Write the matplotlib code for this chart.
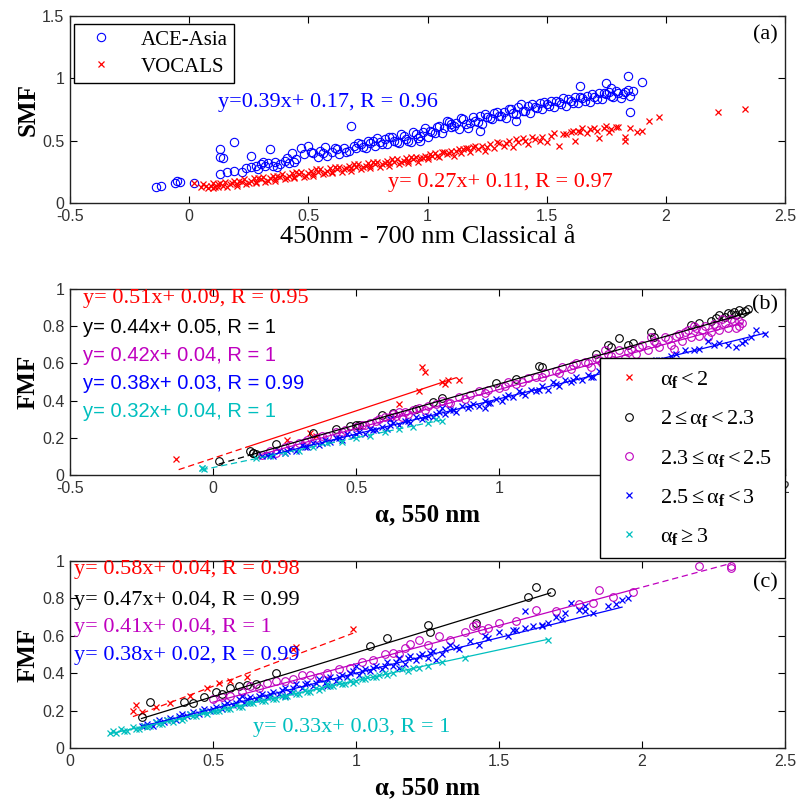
import numpy as np
import matplotlib
matplotlib.use('Agg')
import matplotlib.pyplot as plt

plt.rcParams.update({'font.family': 'Liberation Serif',
                     'mathtext.fontset': 'custom',
                     'mathtext.rm': 'Liberation Serif',
                     'mathtext.it': 'Liberation Serif:italic',
                     'mathtext.bf': 'Liberation Serif:bold'})

# ---------------- (a) SMF vs Angstrom exponent ----------------
ace_x = [-0.14, -0.12, -0.06, -0.05, -0.04, 0.02, 0.13, 0.13, 0.14, 0.19, 0.26, 0.34, 0.13, 0.16, 0.19, 0.22,
         0.24, 0.26, 0.28, 0.30, 0.32, 0.33, 0.35, 0.36, 0.38, 0.40, 0.42, 0.43, 0.45, 0.47, 0.48, 0.50, 0.52,
         0.54, 0.55, 0.57, 0.58, 0.60, 0.62, 0.63, 0.65, 0.67, 0.68, 0.69, 0.70, 0.72, 0.73, 0.75, 0.76, 0.78,
         0.79, 0.80, 0.82, 0.83, 0.85, 0.86, 0.88, 0.90, 0.91, 0.93, 0.95, 0.96, 0.98, 1.00, 1.01, 1.03, 1.05,
         1.06, 1.08, 1.10, 1.12, 1.13, 1.15, 1.17, 1.18, 1.20, 1.22, 1.23, 1.25, 1.27, 1.28, 1.30, 1.32, 1.33,
         1.35, 1.37, 1.38, 1.40, 1.42, 1.43, 1.45, 1.47, 1.48, 1.50, 1.52, 1.53, 1.55, 1.57, 1.58, 1.60, 1.62,
         1.63, 1.65, 1.67, 1.68, 1.70, 1.72, 1.73, 1.75, 1.76, 1.78, 1.80, 1.81, 1.83, 1.85, 1.86, 1.64, 1.75,
         1.77, 1.84, 1.90, 1.85, 1.37, 1.10, 0.97, 1.22,
         0.51, 0.56, 0.61, 0.66, 0.71, 0.74, 0.77, 0.81, 0.84, 0.87, 0.89, 0.92, 0.94, 0.97, 0.99, 1.02, 1.04,
         1.07, 1.09, 1.11, 1.14, 1.16, 1.19, 1.21, 1.24, 1.26, 1.29, 1.31, 1.34, 1.36, 1.39, 1.41, 1.44, 1.46,
         1.49, 1.51, 1.54, 1.56, 1.59, 1.61, 1.64, 1.66, 1.69, 1.71, 1.74, 1.77, 1.79, 1.82, 1.84, 0.29, 0.31,
         0.37, 0.41, 0.44]
ace_y = [0.13, 0.14, 0.16, 0.18, 0.17, 0.16, 0.37, 0.43, 0.36, 0.49, 0.38, 0.43, 0.23, 0.25, 0.26, 0.25,
         0.28, 0.29, 0.30, 0.31, 0.30, 0.32, 0.30, 0.33, 0.31, 0.34, 0.32, 0.40, 0.35, 0.44, 0.39, 0.46, 0.40,
         0.37, 0.42, 0.45, 0.38, 0.41, 0.43, 0.39, 0.44, 0.42, 0.62, 0.46, 0.44, 0.47, 0.45, 0.50, 0.48, 0.46,
         0.52, 0.49, 0.51, 0.47, 0.53, 0.50, 0.48, 0.54, 0.51, 0.49, 0.55, 0.52, 0.57, 0.53, 0.58, 0.56, 0.62,
         0.56, 0.66, 0.61, 0.64, 0.59, 0.67, 0.60, 0.64, 0.66, 0.70, 0.63, 0.69, 0.67, 0.72, 0.70, 0.73, 0.68,
         0.75, 0.71, 0.77, 0.74, 0.78, 0.72, 0.77, 0.80, 0.75, 0.79, 0.82, 0.77, 0.81, 0.84, 0.78, 0.82, 0.85,
         0.80, 0.84, 0.86, 0.81, 0.85, 0.88, 0.83, 0.87, 0.89, 0.85, 0.88, 0.84, 0.89, 0.86, 0.90, 0.94, 0.96,
         0.92, 1.02, 0.97, 0.73, 0.66, 0.63, 0.50, 0.58,
         0.41, 0.40, 0.44, 0.41, 0.48, 0.44, 0.50, 0.47, 0.53, 0.49, 0.55, 0.50, 0.57, 0.54, 0.60, 0.57, 0.61,
         0.60, 0.65, 0.62, 0.68, 0.63, 0.69, 0.65, 0.71, 0.68, 0.73, 0.70, 0.75, 0.72, 0.79, 0.74, 0.79, 0.76,
         0.81, 0.78, 0.82, 0.79, 0.83, 0.80, 0.85, 0.82, 0.87, 0.83, 0.88, 0.86, 0.90, 0.87, 0.91, 0.27, 0.33,
         0.29, 0.36, 0.33]

voc_x = [0.02, 0.05, 0.06, 0.08, 0.09, 0.10, 0.11, 0.12, 0.14, 0.15, 0.16, 0.18, 0.19, 0.20, 0.22, 0.23,
         0.24, 0.26, 0.27, 0.28, 0.30, 0.31, 0.32, 0.34, 0.35, 0.36, 0.38, 0.39, 0.40, 0.42, 0.43, 0.44, 0.46,
         0.47, 0.48, 0.50, 0.51, 0.52, 0.54, 0.55, 0.56, 0.58, 0.59, 0.60, 0.62, 0.63, 0.64, 0.66, 0.67, 0.68,
         0.70, 0.71, 0.72, 0.74, 0.75, 0.76, 0.78, 0.79, 0.80, 0.82, 0.83, 0.84, 0.86, 0.87, 0.88, 0.90, 0.91,
         0.92, 0.94, 0.95, 0.96, 0.98, 0.99, 1.00, 1.02, 1.03, 1.05, 1.06, 1.08, 1.10, 1.11, 1.13, 1.14, 1.16,
         1.18, 1.19, 1.21, 1.23, 1.24, 1.26, 1.28, 1.30, 1.32, 1.34, 1.36, 1.38, 1.40, 1.42, 1.45, 1.48, 1.50,
         1.52, 1.55, 1.57, 1.60, 1.62, 1.63, 1.65, 1.67, 1.70, 1.72, 1.75, 1.77, 1.80, 1.83, 1.83, 1.85, 1.88,
         1.90, 1.93, 1.97, 2.22, 2.33,
         0.07, 0.10, 0.13, 0.17, 0.21, 0.25, 0.29, 0.33, 0.37, 0.41, 0.45, 0.49, 0.53, 0.57, 0.61, 0.65, 0.69,
         0.73, 0.77, 0.81, 0.85, 0.89, 0.93, 0.97, 1.01, 1.04, 1.07, 1.12, 1.15, 1.20, 1.25, 1.29, 1.33, 1.37,
         1.41, 1.44, 1.47, 1.53, 1.58, 1.61, 1.64, 1.68, 1.71, 1.74, 1.76, 1.79, 0.12, 0.20, 0.28, 0.36, 0.44,
         0.52, 0.60, 0.68, 0.76, 0.84, 0.92, 1.00, 1.09, 1.17]
voc_y = [0.16, 0.13, 0.15, 0.12, 0.14, 0.16, 0.13, 0.15, 0.14, 0.17, 0.13, 0.16, 0.18, 0.14, 0.17, 0.19,
         0.15, 0.18, 0.20, 0.16, 0.19, 0.21, 0.17, 0.20, 0.22, 0.18, 0.21, 0.23, 0.19, 0.22, 0.24, 0.20, 0.23,
         0.25, 0.21, 0.24, 0.26, 0.22, 0.25, 0.27, 0.23, 0.26, 0.28, 0.24, 0.27, 0.29, 0.25, 0.28, 0.30, 0.26,
         0.29, 0.31, 0.27, 0.30, 0.32, 0.28, 0.31, 0.33, 0.29, 0.32, 0.34, 0.30, 0.33, 0.35, 0.31, 0.34, 0.36,
         0.32, 0.35, 0.37, 0.33, 0.36, 0.38, 0.35, 0.38, 0.40, 0.37, 0.41, 0.39, 0.42, 0.38, 0.43, 0.40, 0.44,
         0.41, 0.45, 0.43, 0.46, 0.42, 0.47, 0.44, 0.48, 0.46, 0.50, 0.45, 0.49, 0.52, 0.47, 0.51, 0.53, 0.49,
         0.54, 0.46, 0.55, 0.57, 0.50, 0.58, 0.60, 0.56, 0.60, 0.52, 0.62, 0.59, 0.61, 0.50, 0.53, 0.60, 0.57,
         0.58, 0.66, 0.69, 0.73, 0.75,
         0.14, 0.12, 0.16, 0.15, 0.18, 0.16, 0.20, 0.18, 0.22, 0.20, 0.25, 0.22, 0.27, 0.24, 0.29, 0.27, 0.31,
         0.29, 0.33, 0.31, 0.35, 0.33, 0.37, 0.36, 0.39, 0.38, 0.41, 0.42, 0.43, 0.46, 0.45, 0.49, 0.48, 0.51,
         0.50, 0.53, 0.50, 0.56, 0.55, 0.58, 0.57, 0.59, 0.58, 0.60, 0.57, 0.61, 0.13, 0.15, 0.17, 0.19, 0.21,
         0.23, 0.25, 0.28, 0.30, 0.32, 0.34, 0.37, 0.40, 0.44]

fit_a = {'ACE-Asia': (0.39, 0.17, 0.96), 'VOCALS': (0.27, 0.11, 0.97)}

# ---------------- (b) FMF vs alpha, uncorrected ----------------
b_red_x = [-0.13, 0.26, 0.34, 0.36, 0.65, 0.72, 0.73, 0.74, 0.80, 0.81, 0.82, 0.86]
b_red_y = [0.086, 0.19, 0.225, 0.21, 0.38, 0.45, 0.58, 0.555, 0.50, 0.49, 0.51, 0.51]

b_blk_x = [0.02, 0.13, 0.14, 0.14, 0.15, 0.22, 0.35, 0.43, 0.48, 0.50, 0.51, 0.59, 0.63, 0.71, 0.77, 0.80,
           0.99, 1.06, 1.14, 1.15, 1.34, 1.38, 1.39, 1.42, 1.45, 1.47, 1.53, 1.54, 1.67, 1.70, 1.74, 1.76,
           1.77, 1.79, 1.80, 1.81, 1.82, 1.83, 1.84, 1.85, 1.86, 1.87]
b_blk_y = [0.075, 0.13, 0.12, 0.118, 0.115, 0.167, 0.226, 0.25, 0.262, 0.27, 0.268, 0.323, 0.335, 0.355,
           0.393, 0.417, 0.495, 0.516, 0.586, 0.582, 0.65, 0.70, 0.69, 0.737, 0.70, 0.71, 0.77, 0.74, 0.806,
           0.82, 0.83, 0.844, 0.86, 0.85, 0.87, 0.866, 0.876, 0.86, 0.89, 0.87, 0.88, 0.895]

b_mag_x = [0.17, 0.20, 0.22, 0.25, 0.27, 0.30, 0.33, 0.36, 0.40, 0.43, 0.46, 0.50, 0.53, 0.55, 0.58, 0.60,
           0.63, 0.65, 0.68, 0.70, 0.72, 0.75, 0.78, 0.80, 0.83, 0.86, 0.90, 0.93, 0.96, 1.00, 1.03, 1.06,
           1.10, 1.13, 1.16, 1.20, 1.22, 1.25, 1.27, 1.30, 1.32, 1.34, 1.36, 1.38, 1.40, 1.42, 1.44, 1.46,
           1.48, 1.50, 1.52, 1.54, 1.56, 1.58, 1.60, 1.62, 1.64, 1.65, 1.67, 1.69, 1.70, 1.72, 1.74, 1.75,
           1.77, 1.79, 1.80, 1.82, 1.84, 1.85, 1.37, 1.43, 1.53, 1.61, 1.68, 1.73, 1.78, 1.83,
           0.32, 0.38, 0.45, 0.52, 0.57, 0.62, 0.67, 0.74, 0.82, 0.88, 0.95, 1.02, 1.08, 1.15, 1.21, 1.26,
           1.31, 1.35, 1.39, 1.45, 1.49, 1.55, 1.59, 1.63, 1.66, 1.71, 1.76, 1.81, 1.84, 0.64, 0.66]
b_mag_y = [0.11, 0.13, 0.12, 0.15, 0.16, 0.17, 0.19, 0.20, 0.21, 0.23, 0.24, 0.26, 0.27, 0.28, 0.30, 0.31,
           0.33, 0.34, 0.33, 0.35, 0.36, 0.37, 0.38, 0.40, 0.39, 0.42, 0.43, 0.45, 0.46, 0.47, 0.50, 0.49,
           0.52, 0.53, 0.55, 0.56, 0.58, 0.57, 0.60, 0.61, 0.58, 0.63, 0.60, 0.65, 0.62, 0.67, 0.63, 0.68,
           0.65, 0.70, 0.67, 0.72, 0.69, 0.74, 0.70, 0.75, 0.72, 0.77, 0.74, 0.79, 0.75, 0.80, 0.77, 0.81,
           0.78, 0.82, 0.79, 0.83, 0.80, 0.82, 0.67, 0.60, 0.74, 0.68, 0.80, 0.74, 0.84, 0.79,
           0.18, 0.21, 0.23, 0.27, 0.29, 0.31, 0.34, 0.35, 0.39, 0.41, 0.44, 0.48, 0.50, 0.53, 0.55, 0.59,
           0.60, 0.62, 0.64, 0.66, 0.69, 0.71, 0.73, 0.76, 0.78, 0.78, 0.80, 0.84, 0.83, 0.32, 0.31]

b_blu_x = [0.17, 0.19, 0.21, 0.23, 0.25, 0.27, 0.29, 0.31, 0.33, 0.35, 0.37, 0.39, 0.41, 0.43, 0.45, 0.47,
           0.49, 0.51, 0.53, 0.55, 0.57, 0.59, 0.61, 0.63, 0.65, 0.67, 0.69, 0.71, 0.73, 0.75, 0.77, 0.79,
           0.81, 0.83, 0.85, 0.87, 0.89, 0.91, 0.93, 0.95, 0.97, 0.99, 1.01, 1.03, 1.05, 1.07, 1.09, 1.11,
           1.13, 1.15, 1.17, 1.19, 1.21, 1.23, 1.25, 1.27, 1.29, 1.31, 1.33, 1.35, 1.37, 1.40, 1.43, 1.46,
           1.50, 1.53, 1.56, 1.60, 1.65, 1.70, 1.73, 1.77, 1.80, 1.83, 1.86, 1.88, 1.90, 1.93, 0.62, 0.80,
           0.95,
           0.20, 0.26, 0.32, 0.38, 0.44, 0.50, 0.56, 0.62, 0.68, 0.74, 0.78, 0.84, 0.90, 0.96, 1.02, 1.08,
           1.14, 1.20, 1.26, 1.32, 1.38, 1.42, 1.48, 1.55, 1.62, 1.68, 1.75, 1.85]
b_blu_y = [0.10, 0.11, 0.10, 0.13, 0.12, 0.14, 0.13, 0.16, 0.15, 0.17, 0.16, 0.19, 0.18, 0.20, 0.19, 0.22,
           0.21, 0.23, 0.22, 0.25, 0.24, 0.26, 0.25, 0.28, 0.27, 0.29, 0.28, 0.31, 0.30, 0.32, 0.31, 0.34,
           0.33, 0.35, 0.34, 0.37, 0.36, 0.38, 0.37, 0.40, 0.39, 0.41, 0.40, 0.43, 0.42, 0.45, 0.43, 0.46,
           0.45, 0.48, 0.46, 0.50, 0.48, 0.51, 0.50, 0.53, 0.51, 0.54, 0.53, 0.56, 0.54, 0.57, 0.56, 0.59,
           0.60, 0.61, 0.62, 0.64, 0.67, 0.68, 0.72, 0.71, 0.70, 0.69, 0.72, 0.74, 0.78, 0.76, 0.30, 0.36,
           0.36,
           0.11, 0.13, 0.15, 0.17, 0.20, 0.22, 0.24, 0.27, 0.29, 0.31, 0.33, 0.35, 0.37, 0.39, 0.42, 0.44,
           0.46, 0.49, 0.51, 0.53, 0.56, 0.57, 0.59, 0.62, 0.65, 0.67, 0.70, 0.71]

b_cyn_x = [-0.04, -0.03, -0.04, 0.15, 0.20, 0.25, 0.30, 0.35, 0.40, 0.45, 0.50, 0.55, 0.60, 0.65, 0.70,
           0.75, 0.80, 0.78]
b_cyn_y = [0.035, 0.03, 0.04, 0.09, 0.10, 0.12, 0.13, 0.15, 0.17, 0.18, 0.20, 0.21, 0.23, 0.25, 0.26,
           0.28, 0.29, 0.30]

# slope, intercept, R for each alpha_f class
slope_b = [0.51, 0.44, 0.42, 0.38, 0.32]
icpt_b = [0.09, 0.05, 0.04, 0.03, 0.04]
r_b = ['0.95', '1', '1', '0.99', '1']
# x extent of solid and dashed parts of each fitted line
solid_b = [(0.12, 0.85), (0.14, 1.88), (0.17, 1.85), (0.17, 1.93), None]
dash_b = [(-0.12, 0.12), (0.02, 0.14), None, None, (-0.04, 0.80)]

# ---------------- (c) FMF vs alpha, corrected ----------------
c_red_x = [0.22, 0.23, 0.25, 0.30, 0.35, 0.42, 0.48, 0.52, 0.56, 0.62, 0.78, 0.79, 0.99]
c_red_y = [0.20, 0.23, 0.19, 0.22, 0.24, 0.28, 0.32, 0.35, 0.36, 0.38, 0.53, 0.54, 0.635]

c_blk_x = [0.25, 0.28, 0.40, 0.43, 0.47, 0.51, 0.53, 0.56, 0.59, 0.62, 0.65, 0.72, 1.05, 1.11, 1.25, 1.26,
           1.42, 1.60, 1.63, 1.68]
c_blk_y = [0.166, 0.245, 0.245, 0.24, 0.27, 0.30, 0.29, 0.32, 0.33, 0.337, 0.34, 0.40, 0.545, 0.59, 0.66,
           0.62, 0.668, 0.81, 0.86, 0.835]

c_mag_x = [0.50, 0.53, 0.56, 0.60, 0.63, 0.66, 0.69, 0.72, 0.75, 0.78, 0.81, 0.84, 0.87, 0.90, 0.94, 0.98,
           1.02, 1.06, 1.10, 1.13, 1.15, 1.17, 1.19, 1.22, 1.25, 1.29, 1.33, 1.38, 1.41, 1.42, 1.44, 1.46,
           1.50, 1.56, 1.63, 1.70, 1.78, 1.83, 1.85, 1.90, 1.97, 2.20, 2.31, 2.31]
c_mag_y = [0.26, 0.27, 0.28, 0.30, 0.33, 0.32, 0.35, 0.36, 0.36, 0.37, 0.39, 0.39, 0.38, 0.40, 0.42, 0.43,
           0.46, 0.47, 0.50, 0.51, 0.50, 0.535, 0.556, 0.58, 0.55, 0.60, 0.58, 0.62, 0.65, 0.66, 0.63, 0.64,
           0.67, 0.68, 0.74, 0.73, 0.77, 0.775, 0.845, 0.81, 0.835, 0.973, 0.973, 0.96]

c_blu_x = [0.25, 0.27, 0.29, 0.31, 0.33, 0.35, 0.37, 0.39, 0.41, 0.43, 0.45, 0.47, 0.49, 0.51, 0.53, 0.55,
           0.57, 0.59, 0.61, 0.63, 0.65, 0.67, 0.69, 0.71, 0.73, 0.75, 0.77, 0.79, 0.81, 0.83, 0.85, 0.87,
           0.89, 0.91, 0.93, 0.95, 0.97, 0.99, 1.01, 1.03, 1.05, 1.07, 1.09, 1.11, 1.13, 1.15, 1.17, 1.19,
           1.21, 1.23, 1.25, 1.27, 1.30, 1.33, 1.36, 1.40, 1.43, 1.46, 1.50, 1.53, 1.56, 1.59, 1.62, 1.65,
           1.67, 1.70, 1.73, 1.75, 1.78, 1.80, 1.83, 1.88, 1.91, 1.93, 1.95, 0.60, 0.75, 0.90, 1.00, 1.15,
           1.28, 1.59,
           0.26, 0.30, 0.34, 0.38, 0.42, 0.46, 0.50, 0.54, 0.58, 0.62, 0.66, 0.70, 0.74, 0.78, 0.82, 0.86,
           0.90, 0.94, 0.98, 1.02, 1.06, 1.10, 1.14, 1.18, 1.22, 1.26, 1.31, 1.35, 1.45, 1.55, 1.65, 1.72,
           1.80]
c_blu_y = [0.12, 0.13, 0.12, 0.15, 0.14, 0.16, 0.15, 0.18, 0.17, 0.19, 0.18, 0.21, 0.20, 0.22, 0.21, 0.24,
           0.23, 0.26, 0.24, 0.27, 0.26, 0.29, 0.27, 0.30, 0.29, 0.32, 0.30, 0.34, 0.32, 0.35, 0.33, 0.37,
           0.35, 0.38, 0.36, 0.39, 0.38, 0.41, 0.39, 0.42, 0.41, 0.44, 0.42, 0.46, 0.44, 0.48, 0.45, 0.49,
           0.47, 0.50, 0.48, 0.52, 0.50, 0.55, 0.53, 0.57, 0.55, 0.59, 0.62, 0.60, 0.63, 0.64, 0.65, 0.66,
           0.67, 0.70, 0.72, 0.775, 0.74, 0.76, 0.72, 0.76, 0.77, 0.79, 0.80, 0.28, 0.28, 0.33, 0.44, 0.43,
           0.47, 0.73,
           0.12, 0.14, 0.15, 0.17, 0.18, 0.20, 0.21, 0.23, 0.24, 0.26, 0.28, 0.29, 0.31, 0.32, 0.34, 0.35,
           0.37, 0.38, 0.40, 0.41, 0.43, 0.44, 0.46, 0.48, 0.49, 0.51, 0.53, 0.54, 0.60, 0.63, 0.65, 0.69,
           0.73]

c_cyn_x = [0.14, 0.16, 0.18, 0.20, 0.22, 0.24, 0.26, 0.28, 0.30, 0.32, 0.34, 0.36, 0.38, 0.40, 0.42, 0.44,
           0.46, 0.48, 0.50, 0.52, 0.54, 0.56, 0.58, 0.60, 0.62, 0.64, 0.66, 0.68, 0.70, 0.72, 0.74, 0.76,
           0.78, 0.80, 0.82, 0.84, 0.86, 0.88, 0.90, 0.92, 0.94, 0.96, 0.98, 1.00, 1.02, 1.04, 1.06, 1.08,
           1.10, 1.13, 1.16, 1.20, 1.25, 1.30, 1.38, 1.67,
           0.15, 0.19, 0.23, 0.27, 0.31, 0.35, 0.39, 0.43, 0.47, 0.51, 0.55, 0.59, 0.63, 0.67, 0.71, 0.75,
           0.79, 0.83, 0.87, 0.91, 0.95, 0.99, 1.03, 1.07, 1.11, 1.18, 1.22]
c_cyn_y = [0.08, 0.08, 0.10, 0.09, 0.11, 0.10, 0.12, 0.12, 0.14, 0.13, 0.15, 0.14, 0.16, 0.16, 0.18, 0.17,
           0.19, 0.18, 0.20, 0.20, 0.22, 0.21, 0.23, 0.22, 0.24, 0.24, 0.26, 0.25, 0.27, 0.26, 0.28, 0.28,
           0.30, 0.29, 0.31, 0.30, 0.32, 0.32, 0.34, 0.33, 0.35, 0.34, 0.36, 0.36, 0.37, 0.38, 0.38, 0.39,
           0.40, 0.40, 0.42, 0.43, 0.44, 0.46, 0.48, 0.58,
           0.09, 0.09, 0.10, 0.11, 0.13, 0.15, 0.15, 0.17, 0.19, 0.20, 0.21, 0.22, 0.24, 0.25, 0.26, 0.27,
           0.29, 0.30, 0.31, 0.33, 0.34, 0.35, 0.37, 0.38, 0.39, 0.41, 0.43]

slope_c = [0.58, 0.47, 0.41, 0.38, 0.33]
icpt_c = [0.04, 0.04, 0.04, 0.02, 0.03]
r_c = ['0.98', '0.99', '1', '0.99', '1']
solid_c = [None, (0.25, 1.68), (0.50, 1.97), (0.25, 1.93), (0.14, 1.67)]
dash_c = [(0.22, 0.99), None, (1.97, 2.31), None, None]

colors = ['r', 'k', 'm', 'b', 'c']
markers = ['x', 'o', 'o', 'x', 'x']
leg_labels = [r'$\mathrm{α}_{\mathbf{f}} < 2$',
              r'$2 \leq \mathrm{α}_{\mathbf{f}} < 2.3$',
              r'$2.3 \leq \mathrm{α}_{\mathbf{f}} < 2.5$',
              r'$2.5 \leq \mathrm{α}_{\mathbf{f}} < 3$',
              r'$\mathrm{α}_{\mathbf{f}} \geq 3$']

tickfont = {'family': 'Liberation Sans', 'size': 11.5}


def style_axes(ax, xlim, ylim, xticks, yticks):
    ax.set_xlim(xlim)
    ax.set_ylim(ylim)
    ax.set_xticks(xticks)
    ax.set_yticks(yticks)
    ax.set_xticklabels(['%g' % t for t in xticks], fontdict=tickfont, color='#333333')
    ax.set_yticklabels(['%g' % t for t in yticks], fontdict=tickfont, color='#333333')
    ax.tick_params(direction='in', length=5, width=0.8, top=True, right=True)
    ax.tick_params(axis='x', pad=4.5)
    ax.tick_params(axis='y', pad=4)
    for s in ax.spines.values():
        s.set_linewidth(1.0)
        s.set_color('#222222')


def scatter_set(ax, xs, ys, col, mk):
    if mk == 'o':
        return ax.plot(xs, ys, 'o', mfc='none', mec=col, ms=5.5, mew=0.8, zorder=2)[0]
    return ax.plot(xs, ys, 'x', color=col, ms=5, mew=0.9, zorder=2)[0]


def fit_lines(ax, slopes, icpts, solid, dash):
    for m, c, col, s, d in zip(slopes, icpts, colors, solid, dash):
        if s is not None:
            xx = np.array(s)
            ax.plot(xx, m * xx + c, '-', color=col, lw=0.9, zorder=3)
        if d is not None:
            xx = np.array(d)
            ax.plot(xx, m * xx + c, '--', color=col, lw=0.9, dashes=(5, 3), zorder=3)


fig = plt.figure(figsize=(7.99, 8.01), dpi=100)

# panel (a)
ax1 = fig.add_axes([0.0876, 0.7466, 0.895, 0.2335])
h1 = ax1.plot(ace_x, ace_y, 'o', mfc='none', mec='b', ms=6, mew=0.8)[0]
h2 = ax1.plot(voc_x, voc_y, 'x', color='r', ms=5, mew=0.9)[0]
style_axes(ax1, (-0.5, 2.5), (0, 1.5), [-0.5, 0, 0.5, 1, 1.5, 2, 2.5], [0, 0.5, 1, 1.5])
ax1.legend([h1, h2], ['ACE-Asia', 'VOCALS'], loc='upper left', bbox_to_anchor=(0.0, 0.98),
           prop={'family': 'Liberation Serif', 'size': 15}, fancybox=False, framealpha=1,
           edgecolor='k', borderpad=0.3, handlelength=2.0, handletextpad=0.9, labelspacing=0.35,
           borderaxespad=0.2)
m, c, r = fit_a['ACE-Asia']
ax1.text(0.207, 0.535, 'y=%gx+ %g, R = %g' % (m, c, r), transform=ax1.transAxes, color='b',
         fontsize=16, va='center')
m, c, r = fit_a['VOCALS']
ax1.text(0.445, 0.112, 'y= %gx+ %g, R = %g' % (m, c, r), transform=ax1.transAxes, color='r',
         fontsize=16, va='center')
ax1.text(0.99, 0.898, '(a)', transform=ax1.transAxes, fontsize=16, ha='right', va='center')
ax1.set_xlabel('450nm - 700 nm Classical å', fontsize=19, labelpad=1)
ax1.set_ylabel('SMF', fontsize=18, fontweight='bold', labelpad=2)

# panel (b)
ax2 = fig.add_axes([0.0876, 0.407, 0.895, 0.232])
b_sets = [(b_red_x, b_red_y), (b_blk_x, b_blk_y), (b_mag_x, b_mag_y), (b_blu_x, b_blu_y),
          (b_cyn_x, b_cyn_y)]
handles = []
for (xs, ys), col, mk in zip(b_sets, colors, markers):
    handles.append(scatter_set(ax2, xs, ys, col, mk))
fit_lines(ax2, slope_b, icpt_b, solid_b, dash_b)
style_axes(ax2, (-0.5, 2), (0, 1), [-0.5, 0, 0.5, 1, 1.5, 2], [0, 0.2, 0.4, 0.6, 0.8, 1])
ty = [0.952, 0.796, 0.645, 0.495, 0.339]
for i in range(5):
    fam = 'Liberation Serif' if i == 0 else 'Liberation Sans'
    fs = 16 if i == 0 else 14.5
    ax2.text(0.018, ty[i], 'y= %gx+ %g, R = %s' % (slope_b[i], icpt_b[i], r_b[i]),
             transform=ax2.transAxes, color=colors[i], family=fam, fontsize=fs, va='center')
ax2.text(0.99, 0.914, '(b)', transform=ax2.transAxes, fontsize=16, ha='right', va='center')
ax2.set_xlabel('α, 550 nm', fontsize=18, fontweight='bold', labelpad=5)
ax2.set_ylabel('FMF', fontsize=18, fontweight='bold', labelpad=2)

# panel (c)
ax3 = fig.add_axes([0.0876, 0.0662, 0.895, 0.2334])
c_sets = [(c_red_x, c_red_y), (c_blk_x, c_blk_y), (c_mag_x, c_mag_y), (c_blu_x, c_blu_y),
          (c_cyn_x, c_cyn_y)]
for (xs, ys), col, mk in zip(c_sets, colors, markers):
    scatter_set(ax3, xs, ys, col, mk)
fit_lines(ax3, slope_c, icpt_c, solid_c, dash_c)
style_axes(ax3, (0, 2.5), (0, 1), [0, 0.5, 1, 1.5, 2, 2.5], [0, 0.2, 0.4, 0.6, 0.8, 1])
ty = [0.952, 0.791, 0.647, 0.497]
for i in range(4):
    ax3.text(0.006, ty[i], 'y= %gx+ %g, R = %s' % (slope_c[i], icpt_c[i], r_c[i]),
             transform=ax3.transAxes, color=colors[i], fontsize=16, va='center')
ax3.text(0.256, 0.112, 'y= %gx+ %g, R = %s' % (slope_c[4], icpt_c[4], r_c[4]),
         transform=ax3.transAxes, color=colors[4], fontsize=16, va='center')
ax3.text(0.99, 0.882, '(c)', transform=ax3.transAxes, fontsize=16, ha='right', va='center')
ax3.set_xlabel('α, 550 nm', fontsize=18, fontweight='bold', labelpad=5)
ax3.set_ylabel('FMF', fontsize=18, fontweight='bold', labelpad=2)

# class legend sits between (b) and (c)
leg = fig.legend(handles, leg_labels, loc='upper left', bbox_to_anchor=(0.751, 0.301, 0.231, 0.252),
                 mode='expand', prop={'family': 'Liberation Serif', 'size': 16}, fancybox=False,
                 framealpha=1, edgecolor='k', handlelength=1.6, handletextpad=0.6, labelspacing=0.82,
                 borderpad=0.5, borderaxespad=0)
leg.get_frame().set_linewidth(1.0)

fig.savefig('out.png', dpi=100)
